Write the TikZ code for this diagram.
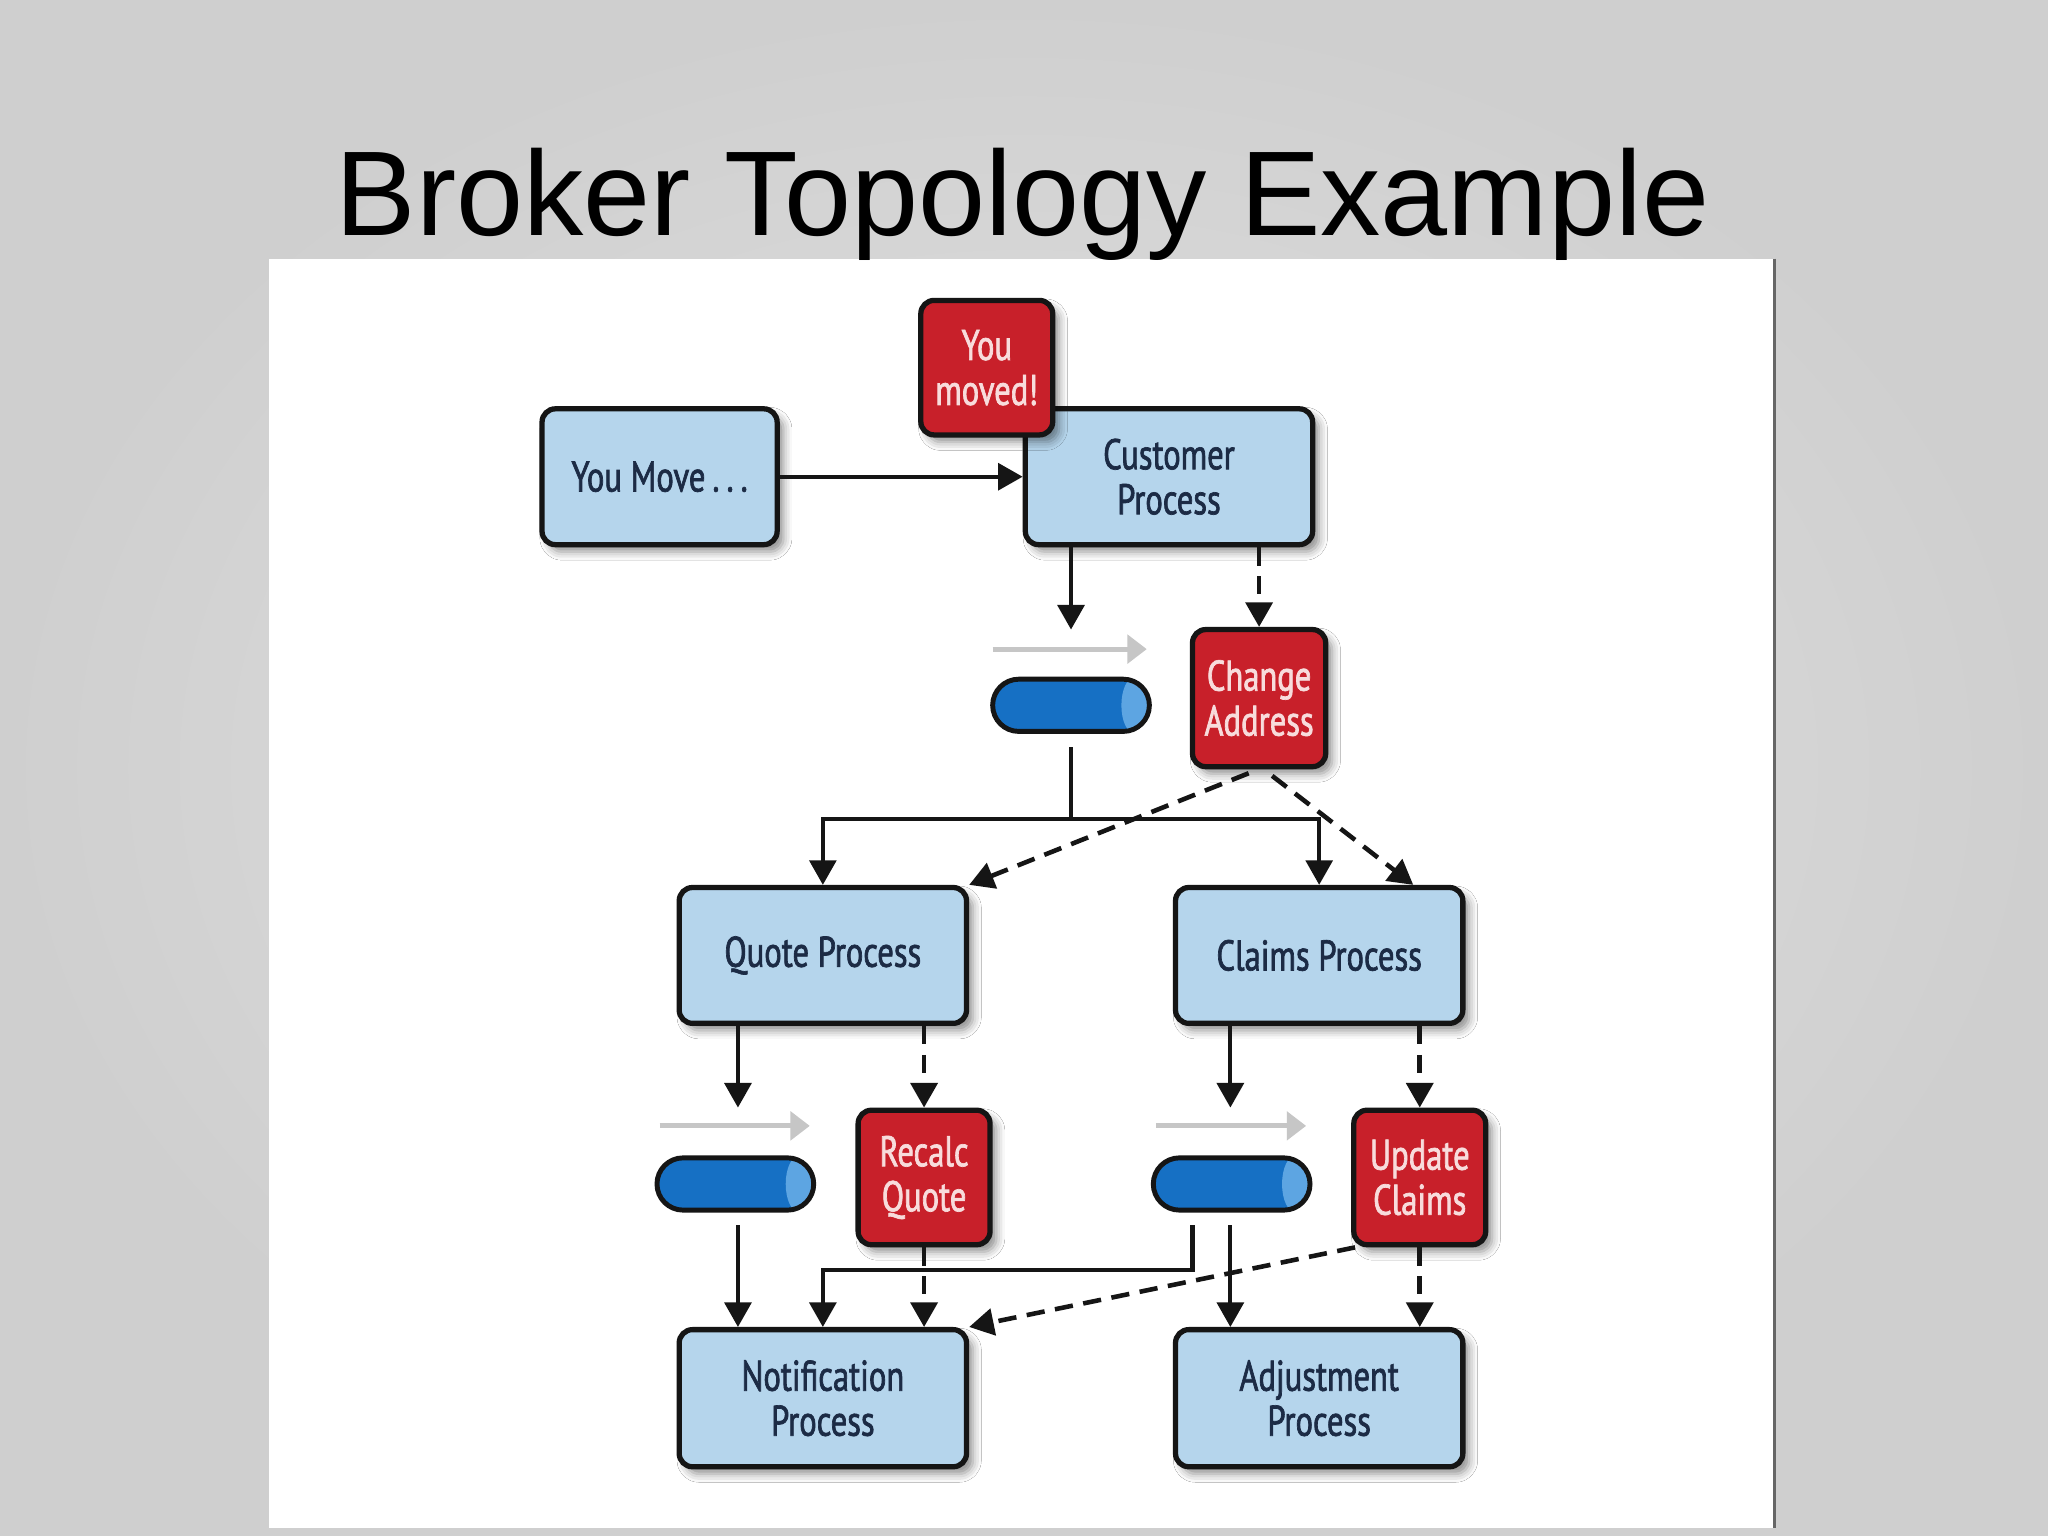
\documentclass[tikz,border=0pt]{standalone}
\usepackage{fontspec}
\setmainfont{Liberation Sans}
\newfontfamily\boxfont[FakeStretch=0.76,FakeBold=1.6]{PT Sans}
\usetikzlibrary{arrows.meta,shapes.misc,shadows.blur,calc}
\newlength\dpx
\setlength\dpx{0.013061cm}
\definecolor{bgedge}{HTML}{CFCFCF}
\definecolor{bgmid}{HTML}{E3E3E3}
\definecolor{boxblue}{HTML}{B5D5EC}
\definecolor{boxred}{HTML}{C8202A}
\definecolor{txtblue}{HTML}{1C2B45}
\definecolor{txtred}{HTML}{F8DCDC}
\definecolor{edge}{HTML}{151515}
\definecolor{qdark}{HTML}{1670C4}
\definecolor{qlight}{HTML}{5DA5E2}
\definecolor{garrow}{HTML}{C6C6C6}
\tikzset{
  boxshadow/.style={blur shadow={shadow xshift=1.8pt, shadow yshift=-2pt, shadow blur radius=2.4pt, shadow opacity=45}},
  procbox/.style={draw=edge, line width=1.5pt, fill=boxblue, rounded corners=3.8pt,
    minimum width=220\dpx, minimum height=104\dpx, inner sep=0pt, align=center,
    text=txtblue, font=\boxfont\fontsize{12.2}{12.8}\selectfont, boxshadow},
  evbox/.style={draw=edge, line width=1.5pt, fill=boxred, rounded corners=3.8pt,
    minimum width=101\dpx, minimum height=103\dpx, inner sep=0pt, align=center,
    text=txtred, font=\boxfont\fontsize{12.2}{12.8}\selectfont, boxshadow},
  queue/.style={rounded rectangle, draw=edge, line width=1.4pt, fill=qdark,
    minimum width=120\dpx, minimum height=40\dpx, inner sep=0pt,
    path picture={
      \fill[qlight] ([xshift=-1.5mm]path picture bounding box.north east) rectangle (path picture bounding box.south east);
      \fill[qlight] ([xshift=-1.5mm]path picture bounding box.east) ellipse [x radius=1.3mm, y radius=2.8mm];
    }},
  conn/.style={draw=edge, line width=1.15pt},
  arr/.style={conn, -{Triangle[width=7.6pt,length=7pt]}},
  darr/.style={arr, line width=1.3pt, dash pattern=on 5.2pt off 3pt},
  grayarr/.style={draw=garrow, line width=1.4pt, -{Triangle[width=8pt,length=5.5pt]}},
}
\begin{document}
\begin{tikzpicture}[x=0.013061cm, y=-0.013061cm]
% background
\path[use as bounding box, outer color=bgedge, inner color=bgmid] (0,0) rectangle (1568,1176);
% white panel
\fill[white] (206,198) rectangle (1359,1170);
\draw[color=black!60, line width=0.8pt] (1358.5,198) -- (1358.5,1170);
% title
\node[anchor=base, font=\fontsize{34.3}{40}\selectfont, text=black] (title) at (783,180) {Broker Topology Example};

% process boxes
\node[procbox, minimum width=180\dpx] (ym) at (505,365) {You Move\,.\,.\,.};
\node[procbox] (cp) at (895,365) {Customer\\Process};
\node[evbox] (ymv) at (755.5,281.5) {You\\moved!};
\node[evbox, minimum width=102\dpx, minimum height=105\dpx] (ca) at (964,534.5) {Change\\Address};
\node[queue] (q1) at (820,540) {};
\node[procbox] (qp) at (630,731.5) {Quote Process};
\node[procbox] (clp) at (1010,731.5) {Claims Process};
\node[queue] (q2) at (563,906.5) {};
\node[evbox] (rq) at (707.5,901.5) {Recalc\\Quote};
\node[queue] (q3) at (943,906.5) {};
\node[evbox] (uc) at (1087,901.5) {Update\\Claims};
\node[procbox, minimum height=105\dpx] (np) at (630,1070.5) {Notification\\Process};
\node[procbox, minimum height=105\dpx] (ap) at (1010,1070.5) {Adjustment\\Process};

% gray flow arrows over queues
\coordinate (g1a) at (760,497); \coordinate (g1b) at (878,497);
\coordinate (g2a) at (505,862); \coordinate (g2b) at (620,862);
\coordinate (g3a) at (885,862); \coordinate (g3b) at (1000,862);
\draw[grayarr] (g1a) -- (g1b);
\draw[grayarr] (g2a) -- (g2b);
\draw[grayarr] (g3a) -- (g3b);

% free-end coordinates
\coordinate (q1in) at (820,482);
\coordinate (q1out) at (820,572);
\coordinate (j1) at (820,627);
\coordinate (q2in) at (565,848);
\coordinate (q3in) at (942,848);
\coordinate (q2out) at (565,938);
\coordinate (q3a) at (913,938);
\coordinate (j3) at (913,972);
\coordinate (q3b) at (942,938);

% connectors
\draw[arr] (ym) -- (cp);
\draw[arr] (cp.south -| q1in) -- (q1in);
\draw[darr] (cp.south -| ca.north) -- (ca.north);
\draw[conn] (q1out) -- (j1);
\draw[arr] (j1) -| (qp.north);
\draw[arr] (j1) -| (clp.north);
\draw[darr] ($(ca.south)+(-8,3)$) -- (qp.north east);
\draw[darr] ($(ca.south)+(10,5)$) -- ($(clp.north east)+(-40,0)$);

\draw[arr] (qp.south -| q2in) -- (q2in);
\draw[darr] (qp.south -| rq.north) -- (rq.north);
\draw[arr] (clp.south -| q3in) -- (q3in);
\draw[darr] (clp.south -| uc.north) -- (uc.north);

\draw[arr] (q2out) -- (q2out |- np.north);
\draw[darr] (rq.south) -- (rq.south |- np.north);
\draw[arr] (q3a) -- (j3) -| (np.north);
\draw[arr] (q3b) -- (q3b |- ap.north);
\draw[darr] ($(uc.south west)+(3,0)$) -- (np.north east);
\draw[darr] (uc.south) -- (uc.south |- ap.north);
\end{tikzpicture}
\end{document}
